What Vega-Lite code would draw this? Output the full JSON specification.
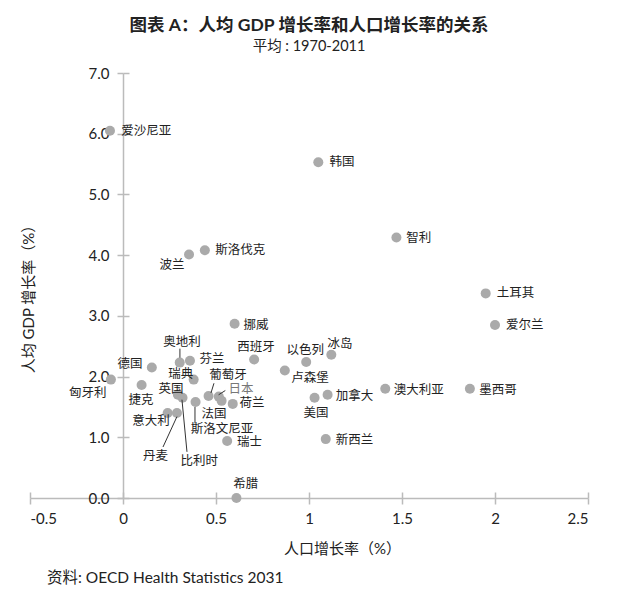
{
  "$schema": "https://vega.github.io/schema/vega-lite/v6.json",
  "width": 558,
  "height": 425,
  "autosize": "none",
  "padding": {"left": 30, "top": 73, "right": 30, "bottom": 102},
  "background": "white",
  "title": {
    "text": "图表 A：人均 GDP 增长率和人口增长率的关系",
    "subtitle": "平均 : 1970-2011",
    "anchor": "middle",
    "font": "Lato, Noto Sans CJK SC",
    "subtitleFont": "Lato, Noto Sans CJK SC",
    "fontSize": 17.5,
    "fontWeight": "bold",
    "subtitleFontSize": 14.5,
    "color": "#222",
    "subtitleColor": "#222",
    "offset": 13,
    "subtitlePadding": 5
  },
  "config": {
    "view": {"stroke": null},
    "font": "Lato, Noto Sans CJK SC",
    "axis": {
      "grid": false,
      "labelFont": "Lato, Noto Sans CJK SC",
      "titleFont": "Lato, Noto Sans CJK SC",
      "labelColor": "#222",
      "titleColor": "#222",
      "labelFontSize": 15,
      "titleFontSize": 15,
      "titleFontWeight": "normal",
      "domainColor": "#bbb",
      "tickColor": "#bbb",
      "domainWidth": 1.5,
      "tickWidth": 1.5
    }
  },
  "datasets": {
    "pts": [
      {"name": "爱沙尼亚", "pop": -0.07, "gdp": 6.05, "lx": 0.125, "ly": 6.04},
      {"name": "韩国", "pop": 1.05, "gdp": 5.53, "lx": 1.177, "ly": 5.53},
      {"name": "斯洛伐克", "pop": 0.44, "gdp": 4.08, "lx": 0.63, "ly": 4.09},
      {"name": "波兰", "pop": 0.355, "gdp": 4.01, "lx": 0.263, "ly": 3.84},
      {"name": "智利", "pop": 1.47, "gdp": 4.29, "lx": 1.59, "ly": 4.29},
      {"name": "土耳其", "pop": 1.95, "gdp": 3.37, "lx": 2.11, "ly": 3.37},
      {"name": "爱尔兰", "pop": 2.0, "gdp": 2.85, "lx": 2.16, "ly": 2.85},
      {"name": "挪威", "pop": 0.6, "gdp": 2.87, "lx": 0.715, "ly": 2.85},
      {"name": "西班牙", "pop": 0.705, "gdp": 2.28, "lx": 0.715, "ly": 2.48},
      {"name": "以色列", "pop": 0.985, "gdp": 2.24, "lx": 0.98, "ly": 2.43},
      {"name": "冰岛", "pop": 1.12, "gdp": 2.36, "lx": 1.167, "ly": 2.54},
      {"name": "卢森堡", "pop": 0.87, "gdp": 2.1, "lx": 1.005, "ly": 1.98},
      {"name": "加拿大", "pop": 1.1, "gdp": 1.7, "lx": 1.245, "ly": 1.68},
      {"name": "美国", "pop": 1.03, "gdp": 1.65, "lx": 1.037, "ly": 1.4},
      {"name": "澳大利亚", "pop": 1.41, "gdp": 1.8, "lx": 1.59, "ly": 1.78},
      {"name": "墨西哥", "pop": 1.865, "gdp": 1.8, "lx": 2.016, "ly": 1.78},
      {"name": "新西兰", "pop": 1.09, "gdp": 0.97, "lx": 1.245, "ly": 0.96},
      {"name": "希腊", "pop": 0.61, "gdp": 0.0, "lx": 0.66, "ly": 0.23},
      {"name": "瑞士", "pop": 0.56, "gdp": 0.94, "lx": 0.68, "ly": 0.92},
      {"name": "荷兰", "pop": 0.59, "gdp": 1.55, "lx": 0.694, "ly": 1.57},
      {"name": "德国", "pop": 0.155, "gdp": 2.15, "lx": 0.037, "ly": 2.21},
      {"name": "匈牙利", "pop": -0.065, "gdp": 1.95, "lx": -0.19, "ly": 1.73},
      {"name": "捷克", "pop": 0.1, "gdp": 1.86, "lx": 0.097, "ly": 1.62},
      {"name": "奥地利", "pop": 0.305, "gdp": 2.23, "lx": 0.317, "ly": 2.57},
      {"name": "芬兰", "pop": 0.36, "gdp": 2.26, "lx": 0.478, "ly": 2.29},
      {"name": "瑞典", "pop": 0.38, "gdp": 1.95, "lx": 0.31, "ly": 2.05},
      {"name": "英国", "pop": 0.295, "gdp": 1.7, "lx": 0.258, "ly": 1.8},
      {"name": "比利时", "pop": 0.32, "gdp": 1.65, "lx": 0.41, "ly": 0.61},
      {"name": "意大利", "pop": 0.24, "gdp": 1.4, "lx": 0.15, "ly": 1.27},
      {"name": "丹麦", "pop": 0.29, "gdp": 1.4, "lx": 0.175, "ly": 0.69},
      {"name": "斯洛文尼亚", "pop": 0.39, "gdp": 1.58, "lx": 0.532, "ly": 1.14},
      {"name": "葡萄牙", "pop": 0.46, "gdp": 1.68, "lx": 0.565, "ly": 2.03},
      {"name": "日本", "pop": 0.515, "gdp": 1.67, "lx": 0.634, "ly": 1.8},
      {"name": "法国", "pop": 0.53, "gdp": 1.6, "lx": 0.489, "ly": 1.39}
    ],
    "leaders": [
      {"name": "奥地利", "x1": 0.306, "y1": 2.46, "x2": 0.306, "y2": 2.31},
      {"name": "丹麦", "x1": 0.29, "y1": 1.34, "x2": 0.215, "y2": 0.84},
      {"name": "比利时", "x1": 0.317, "y1": 1.62, "x2": 0.344, "y2": 0.76},
      {"name": "斯洛文尼亚", "x1": 0.387, "y1": 1.5, "x2": 0.387, "y2": 1.23},
      {"name": "葡萄牙", "x1": 0.473, "y1": 1.73, "x2": 0.489, "y2": 1.89},
      {"name": "日本", "x1": 0.514, "y1": 1.7, "x2": 0.55, "y2": 1.77}
    ]
  },
  "layer": [
    {
      "data": {"name": "pts"},
      "mark": {"type": "circle", "color": "#aaaaaa", "opacity": 1, "size": 100},
      "encoding": {
        "x": {
          "field": "pop",
          "type": "quantitative",
          "scale": {"domain": [-0.5, 2.5], "nice": false, "zero": false},
          "axis": {
            "orient": "bottom",
            "values": [-0.5, 0, 0.5, 1, 1.5, 2, 2.5],
            "labelExpr": "datum.value + ''",
            "tickSize": 6,
            "labelPadding": 7,
            "title": "人口增长率（%）",
            "titleX": 312,
            "titleY": 50,
            "titleBaseline": "middle"
          }
        },
        "y": {
          "field": "gdp",
          "type": "quantitative",
          "scale": {"domain": [0, 7], "nice": false, "zero": false},
          "axis": {
            "orient": "left",
            "offset": -93,
            "values": [0, 1, 2, 3, 4, 5, 6, 7],
            "format": ".1f",
            "tickSize": 6,
            "labelPadding": 8,
            "title": "人均 GDP 增长率（%）",
            "titleX": -95,
            "titleY": 222,
            "titleAngle": -90,
            "titleAlign": "center",
            "titleBaseline": "middle"
          }
        }
      }
    },
    {
      "data": {"name": "leaders"},
      "mark": {"type": "rule", "color": "#333", "strokeWidth": 1},
      "encoding": {
        "x": {
          "field": "x1",
          "type": "quantitative",
          "axis": {
            "orient": "top",
            "offset": -425,
            "values": [-0.5, 0, 0.5, 1, 1.5, 2, 2.5],
            "labels": false,
            "domain": false,
            "tickSize": 6,
            "title": null
          }
        },
        "y": {
          "field": "y1",
          "type": "quantitative",
          "axis": {
            "orient": "right",
            "offset": -465,
            "values": [0, 1, 2, 3, 4, 5, 6, 7],
            "labels": false,
            "domain": false,
            "tickSize": 6,
            "title": null
          }
        },
        "x2": {"field": "x2"},
        "y2": {"field": "y2"}
      }
    },
    {
      "data": {"name": "pts"},
      "mark": {"type": "text", "fontSize": 12.5, "align": "center", "baseline": "middle", "font": "Noto Sans CJK SC"},
      "encoding": {
        "x": {"field": "lx", "type": "quantitative", "axis": null},
        "y": {"field": "ly", "type": "quantitative", "axis": null},
        "text": {"field": "name"},
        "color": {
          "condition": {"test": "datum.name === '日本'", "value": "#777"},
          "value": "#222"
        }
      }
    },
    {
      "data": {"values": [{"src": "资料: OECD Health Statistics 2031"}]},
      "mark": {"type": "text", "fontSize": 15.5, "align": "left", "baseline": "middle", "color": "#222"},
      "encoding": {
        "x": {"value": 17},
        "y": {"value": 505},
        "text": {"field": "src"}
      }
    }
  ],
  "resolve": {"axis": {"x": "independent", "y": "independent"}}
}
